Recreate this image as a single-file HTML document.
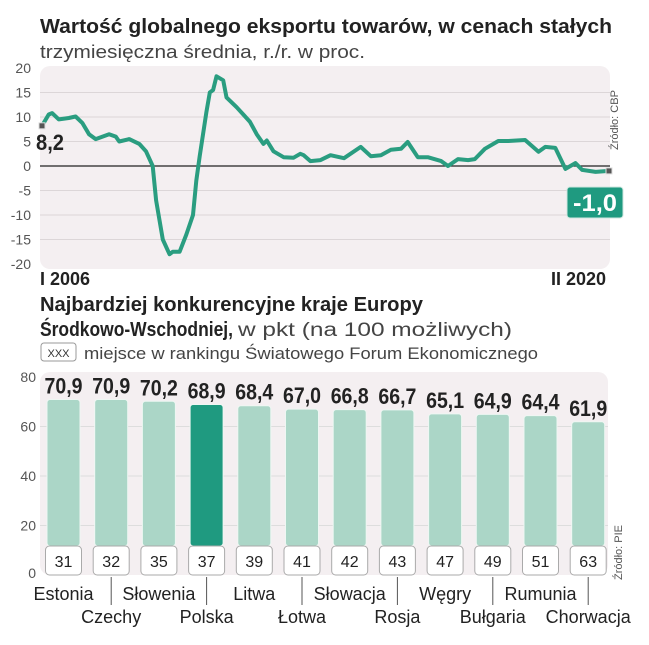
<!DOCTYPE html>
<html><head><meta charset="utf-8">
<style>
body{margin:0;background:#fff;width:649px;height:640px;overflow:hidden;font-family:"Liberation Sans",sans-serif;}
svg text{font-family:"Liberation Sans",sans-serif;}
</style></head><body>
<svg id="s" width="649" height="640">
<text x="40" y="33" font-size="20" font-weight="bold" fill="#222" textLength="572" lengthAdjust="spacingAndGlyphs">Wartość globalnego eksportu towarów, w cenach stałych</text>
<text x="40" y="58" font-size="18" fill="#444" textLength="325" lengthAdjust="spacingAndGlyphs">trzymiesięczna średnia, r./r. w proc.</text>
<rect x="40" y="66" width="570" height="203" rx="10" fill="#f4eff1"/>
<g id="topgrid"></g>
<g id="topline"></g>
<text x="618" y="150" font-size="11" fill="#555" transform="rotate(-90 618 150)">Źródło: CBP</text>
<text x="40" y="285" font-size="18" font-weight="bold" fill="#222">I 2006</text>
<text x="606" y="285" font-size="18" font-weight="bold" fill="#222" text-anchor="end">II 2020</text>
<text x="36" y="150" font-size="22" font-weight="bold" fill="#222" textLength="28" lengthAdjust="spacingAndGlyphs">8,2</text>
<rect x="567" y="187" width="56" height="31" rx="3" fill="#1f9a80" stroke="#cfe7df"/>
<text x="573" y="211" font-size="24" font-weight="bold" fill="#fff" textLength="44" lengthAdjust="spacingAndGlyphs">-1,0</text>

<text x="40" y="311" font-size="20" font-weight="bold" fill="#222" textLength="383" lengthAdjust="spacingAndGlyphs">Najbardziej konkurencyjne kraje Europy</text>
<text x="40" y="336" font-size="20" font-weight="bold" fill="#222" textLength="193" lengthAdjust="spacingAndGlyphs">Środkowo-Wschodniej,</text>
<text x="238" y="336" font-size="19" fill="#444" textLength="274" lengthAdjust="spacingAndGlyphs">w pkt (na 100 możliwych)</text>
<rect x="41" y="343" width="35" height="18" rx="3" fill="#fff" stroke="#999"/>
<text x="58.5" y="357" font-size="11" fill="#333" text-anchor="middle">XXX</text>
<text x="84" y="359" font-size="17" fill="#444" textLength="454" lengthAdjust="spacingAndGlyphs">miejsce w rankingu Światowego Forum Ekonomicznego</text>
<rect x="40" y="372" width="568" height="203" rx="10" fill="#f4eff1"/>
<g id="bars"></g>
<text x="622" y="580" font-size="11" fill="#555" transform="rotate(-90 622 580)">Źródło: PIE</text>
</svg>
<script>
// top chart data
const months=[0,2,3,5,8,10,12,14,16,20,22,23,26,29,31,33,34,36,38,39,41,43,45,46,47,49,50,51,52,54,55,58,60,62,64,66,67,69,72,75,77,78,80,83,86,90,95,98,101,104,107,109,112,115,119,121,124,127,129,132,136,139,144,148,150,153,156,159,161,165,169];
const values=[8.2,10.5,10.8,9.5,9.8,10.1,8.8,6.5,5.5,6.5,6.0,5.0,5.5,4.5,3.0,0,-7,-15,-18,-17.5,-17.5,-14,-10,-3,2,11,15,15.5,18.3,17.5,14,12,10.5,9,6.5,4.5,5.2,3,1.8,1.7,2.5,2.2,1.0,1.2,2.2,1.6,3.9,2.0,2.2,3.3,3.5,4.9,1.8,1.8,1.0,0,1.4,1.2,1.4,3.5,5.1,5.1,5.3,2.9,3.9,3.7,-0.6,0.6,-0.8,-1.2,-1.0];
const yTicks=[20,15,10,5,0,-5,-10,-15,-20];
// bottom chart data
const countries=["Estonia","Czechy","Słowenia","Polska","Litwa","Łotwa","Słowacja","Rosja","Węgry","Bułgaria","Rumunia","Chorwacja"];
const scores=[70.9,70.9,70.2,68.9,68.4,67.0,66.8,66.7,65.1,64.9,64.4,61.9];
const ranks=[31,32,35,37,39,41,42,43,47,49,51,63];
const bTicks=[0,20,40,60,80];

const NS="http://www.w3.org/2000/svg";
function mk(t,a,p,txt){const e=document.createElementNS(NS,t);for(const k in a)e.setAttribute(k,a[k]);if(txt!==undefined)e.textContent=txt;p.appendChild(e);return e;}
const ty=v=>166-v*4.9, tx=m=>42+m*(567/169);
const tg=document.getElementById('topgrid');
yTicks.forEach(v=>{
  if(v!==20&&v!==-20){const l=mk('line',{x1:40,x2:610,y1:ty(v),y2:ty(v),stroke:v===0?'#222':'#dcd6d8','stroke-width':v===0?1.3:1},tg);
  
  }
  const t=mk('text',{x:31,y:ty(v)+5,'font-size':14,fill:'#555','text-anchor':'end'},tg,String(v));
  
  
});
const tl=document.getElementById('topline');
const pth=mk('path',{d:months.map((m,i)=>(i?'L':'M')+tx(m).toFixed(1)+' '+ty(values[i]).toFixed(1)).join(''),fill:'none',stroke:'#2a9d80','stroke-width':4,'stroke-linejoin':'round','stroke-linecap':'round'},tl);


[0,months.length-1].forEach(i=>{
  const r=mk('rect',{x:tx(months[i])-3,y:ty(values[i])-3,width:6,height:6,fill:'#555',stroke:'#ddd'},tl);
  
  
});

const by=v=>575-v*2.475;
const bg=document.getElementById('bars');
bTicks.forEach(v=>{
  if(v>0&&v<80){const l=mk('line',{x1:40,x2:608,y1:by(v),y2:by(v),stroke:'#ddd'},bg);
  
  }
  const t=mk('text',{x:36,y:by(v)+(v===0?3:5),'font-size':14,fill:'#555','text-anchor':'end'},bg,String(v));
  
  
});
countries.forEach((c,i)=>{
  const cx=63.5+i*47.7;
  const b=mk('rect',{x:cx-16.5,y:by(scores[i]),width:33,height:546-by(scores[i]),rx:3,fill:c==="Polska"?'#1f9a80':'#abd6c7',stroke:'#eef7f3'},bg);
  
  
  const v=mk('text',{x:cx-19,y:by(scores[i])-6,'font-size':22,'font-weight':'bold',fill:'#222',textLength:38,lengthAdjust:'spacingAndGlyphs'},bg,scores[i].toFixed(1).replace('.',','));
  
  
  const r=mk('rect',{x:cx-18,y:546,width:36,height:29,rx:4,fill:'#fff',stroke:'#aaa'},bg);
  
  
  const rt=mk('text',{x:cx,y:567,'font-size':16,fill:'#222','text-anchor':'middle'},bg,String(ranks[i]));
  
  
  const row2=i%2===1;
  if(row2){const l=mk('line',{x1:cx,x2:cx,y1:577,y2:605,stroke:'#555'},bg);
  
  }
  const ct=mk('text',{x:cx,y:row2?623:600,'font-size':18,fill:'#222','text-anchor':'middle'},bg,c);
  
  
});
</script>
</body></html>
